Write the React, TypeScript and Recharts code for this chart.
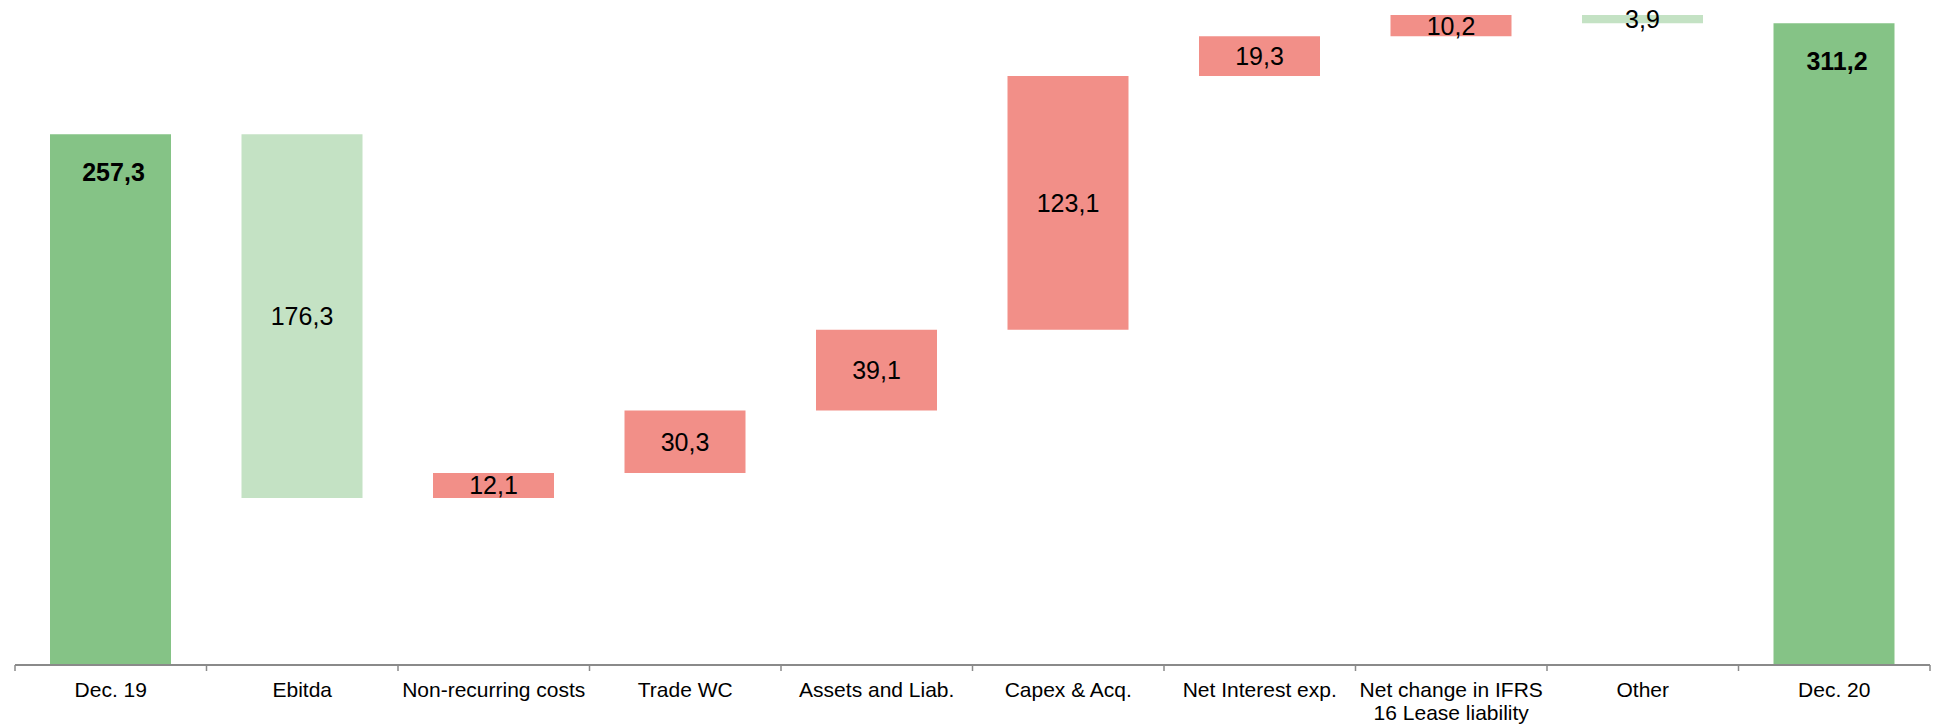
import React from 'react';
import { BarChart, Bar, XAxis, YAxis, Cell, LabelList } from 'recharts';

// net debt bridge Dec. 19 -> Dec. 20
const categories = [
  'Dec. 19',
  'Ebitda',
  'Non-recurring costs',
  'Trade WC',
  'Assets and Liab.',
  'Capex & Acq.',
  'Net Interest exp.',
  'Net change in IFRS\n16 Lease liability',
  'Other',
  'Dec. 20',
];
// positive = debt goes up, negative = debt goes down
const deltas = [257.3, -176.3, 12.1, 30.3, 39.1, 123.1, 19.3, 10.2, -3.9, 311.2];
const isTotal = [true, false, false, false, false, false, false, false, false, true];

const DARK_GREEN = '#85C386';
const LIGHT_GREEN = '#C4E2C4';
const RED = '#F28F88';
const AXIS_GRAY = '#8a8a8a';

const W = 1936;
const H = 726;
const MARGIN = { top: 5, right: 6, left: 15, bottom: 0 };
const AXIS_H = 61;
const AXIS_Y = H - AXIS_H;
const BAND = (W - MARGIN.left - MARGIN.right) / categories.length;

const fmt = (v: number) => Math.abs(v).toFixed(1).replace('.', ',');

let running = 0;
const data = categories.map((name, i) => {
  const d = deltas[i];
  let base: number;
  let size: number;
  if (isTotal[i]) {
    base = 0;
    size = d;
    running = d;
  } else {
    const next = running + d;
    base = Math.min(running, next);
    size = Math.abs(d);
    running = next;
  }
  return { name, base, size, label: fmt(d), total: isTotal[i], delta: d };
});

function colorFor(i: number) {
  if (isTotal[i]) return DARK_GREEN;
  return deltas[i] < 0 ? LIGHT_GREEN : RED;
}

function AxisTick(props: any) {
  const { x, payload, index } = props;
  const lines = String(payload.value).split('\n');
  const left = x - BAND / 2;
  return (
    <g>
      <line x1={left} x2={left} y1={AXIS_Y} y2={AXIS_Y + 6} stroke={AXIS_GRAY} strokeWidth={1.5} />
      {index === categories.length - 1 && (
        <line x1={x + BAND / 2} x2={x + BAND / 2} y1={AXIS_Y} y2={AXIS_Y + 6} stroke={AXIS_GRAY} strokeWidth={1.5} />
      )}
      <text
        x={x}
        y={AXIS_Y + 32}
        textAnchor="middle"
        fontSize={21}
        fill="#000"
        fontFamily="'Liberation Sans', Arial, sans-serif"
      >
        {lines.map((l, k) => (
          <tspan key={k} x={x} dy={k === 0 ? 0 : 23}>
            {l}
          </tspan>
        ))}
      </text>
    </g>
  );
}

function ValueLabel(props: any) {
  const { x, y, width, height, index } = props;
  const row = data[index];
  if (!row) return null;
  const cx = x + width / 2;
  if (row.total) {
    return (
      <text
        x={cx + 3}
        y={y + 38}
        textAnchor="middle"
        dominantBaseline="central"
        fontSize={25}
        fontWeight="bold"
        fill="#000"
        fontFamily="'Liberation Sans', Arial, sans-serif"
      >
        {row.label}
      </text>
    );
  }
  return (
    <text
      x={cx}
      y={y + height / 2}
      textAnchor="middle"
      dominantBaseline="central"
      fontSize={25}
      fill="#000"
      fontFamily="'Liberation Sans', Arial, sans-serif"
    >
      {row.label}
    </text>
  );
}

export default function App() {
  return (
    <div style={{ position: 'absolute', left: 0, top: 0, width: W, height: H, background: '#fff' }}>
      <BarChart width={W} height={H} data={data} margin={MARGIN} barSize={121}>
        <XAxis
          dataKey="name"
          interval={0}
          height={AXIS_H}
          tickLine={false}
          axisLine={{ stroke: AXIS_GRAY, strokeWidth: 2 }}
          tick={<AxisTick />}
        />
        <YAxis hide domain={[0, 320]} />
        <Bar dataKey="base" stackId="w" fill="transparent" isAnimationActive={false} />
        <Bar dataKey="size" stackId="w" isAnimationActive={false}>
          {data.map((_, i) => (
            <Cell key={i} fill={colorFor(i)} />
          ))}
          <LabelList dataKey="size" content={<ValueLabel />} />
        </Bar>
      </BarChart>
    </div>
  );
}
